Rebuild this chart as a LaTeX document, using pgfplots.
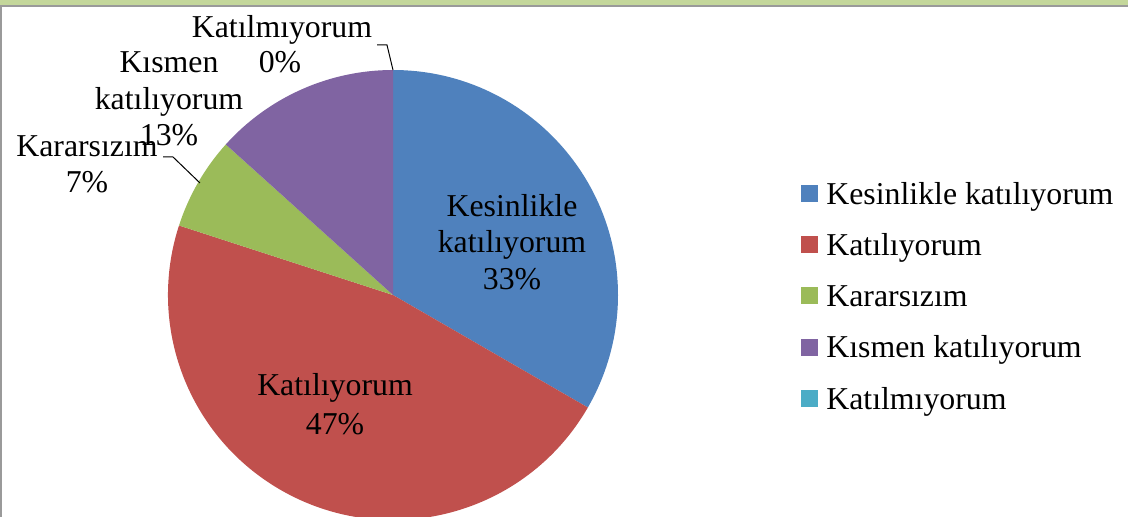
\documentclass[border=0pt]{standalone}
\usepackage{fontspec}
\setmainfont{Liberation Serif}
\usepackage{pgfplots}
\usepackage{pgfplotstable}
\pgfplotsset{compat=1.18}
\definecolor{pieblue}{HTML}{4F81BD}
\definecolor{piered}{HTML}{C0504D}
\definecolor{piegreen}{HTML}{9BBB59}
\definecolor{piepurple}{HTML}{8064A2}
\definecolor{pieteal}{HTML}{4BACC6}
\definecolor{bandgreen}{HTML}{C4D79B}
\definecolor{bandgray}{HTML}{9A9A9A}
\pgfplotstableread{
v
5
7
1
2
0
}\piedata
\pgfplotstablegetelem{0}{v}\of\piedata \let\va\pgfplotsretval
\pgfplotstablegetelem{1}{v}\of\piedata \let\vb\pgfplotsretval
\pgfplotstablegetelem{2}{v}\of\piedata \let\vc\pgfplotsretval
\pgfplotstablegetelem{3}{v}\of\piedata \let\vd\pgfplotsretval
\pgfplotstablegetelem{4}{v}\of\piedata \let\ve\pgfplotsretval
\pgfmathsetmacro\tot{\va+\vb+\vc+\vd+\ve}
\pgfmathsetmacro\aA{90}
\pgfmathsetmacro\aB{\aA-360*\va/\tot}
\pgfmathsetmacro\aC{\aB-360*\vb/\tot}
\pgfmathsetmacro\aD{\aC-360*\vc/\tot}
\pgfmathsetmacro\aE{\aD-360*\vd/\tot}
\pgfmathsetmacro\aF{\aE-360*\ve/\tot}
\newcommand\bigf{\fontsize{31.8}{37}\selectfont}
\begin{document}
\begin{tikzpicture}
\begin{axis}[
  at={(0,0)}, anchor=south west,
  width=1128pt, height=517pt, scale only axis,
  xmin=0, xmax=1128, ymin=0, ymax=517,
  hide axis, clip=true,
  legend style={at={(0.7101,0.6576)}, anchor=north west, draw=none, fill=none,
    inner sep=0pt, outer sep=0pt, font=\bigf, row sep=19.3pt, column sep=9pt,
    nodes={inner sep=0pt, outer sep=0pt, text height=27pt, text depth=5pt}},
  legend cell align=left,
  legend image code/.code={\fill[#1] (0pt,-8pt) rectangle (16pt,8pt);},
]
% frame
\fill[bandgreen] (axis cs:0,511.5) rectangle (axis cs:1128,517);
\fill[bandgray] (axis cs:0,510) rectangle (axis cs:1128,511.5);
\fill[bandgray] (axis cs:0,0) rectangle (axis cs:1.5,510);
% slices
\fill[pieblue] (axis cs:393,222) -- ++(\aA:225pt) arc[start angle=\aA, end angle=\aB, radius=225pt] -- cycle;
\fill[piered] (axis cs:393,222) -- ++(\aB:225pt) arc[start angle=\aB, end angle=\aC, radius=225pt] -- cycle;
\fill[piegreen] (axis cs:393,222) -- ++(\aC:225pt) arc[start angle=\aC, end angle=\aD, radius=225pt] -- cycle;
\fill[piepurple] (axis cs:393,222) -- ++(\aD:225pt) arc[start angle=\aD, end angle=\aE, radius=225pt] -- cycle;
% legend
\addlegendimage{pieblue}
\addlegendentry{Kesinlikle katılıyorum}
\addlegendimage{piered}
\addlegendentry{Katılıyorum}
\addlegendimage{piegreen}
\addlegendentry{Kararsızım}
\addlegendimage{piepurple}
\addlegendentry{Kısmen katılıyorum}
\addlegendimage{pieteal}
\addlegendentry{Katılmıyorum}
% leader lines
\draw[black, line width=1pt] (axis cs:163,360) -- (axis cs:173,360) -- (axis cs:200,334);
\draw[black, line width=1pt] (axis cs:377,472) -- (axis cs:387,472) -- (axis cs:393,447);
% data labels
\tikzset{lbl/.style={anchor=base, inner sep=0pt, font=\bigf}}
\node[lbl] at (axis cs:512,300) {Kesinlikle};
\node[lbl] at (axis cs:512,264) {katılıyorum};
\node[lbl] at (axis cs:512,227) {33\%};
\node[lbl] at (axis cs:335,121) {Katılıyorum};
\node[lbl] at (axis cs:335,82) {47\%};
\node[lbl] at (axis cs:87,360) {Kararsızım};
\node[lbl] at (axis cs:87,324) {7\%};
\node[lbl] at (axis cs:169,444) {Kısmen};
\node[lbl] at (axis cs:169,407) {katılıyorum};
\node[lbl] at (axis cs:169,371) {13\%};
\node[lbl] at (axis cs:282,479) {Katılmıyorum};
\node[lbl] at (axis cs:280,444) {0\%};
\end{axis}
\pgfresetboundingbox
\path[use as bounding box] (0,0) rectangle (1128pt,517pt);
\end{tikzpicture}
\end{document}
